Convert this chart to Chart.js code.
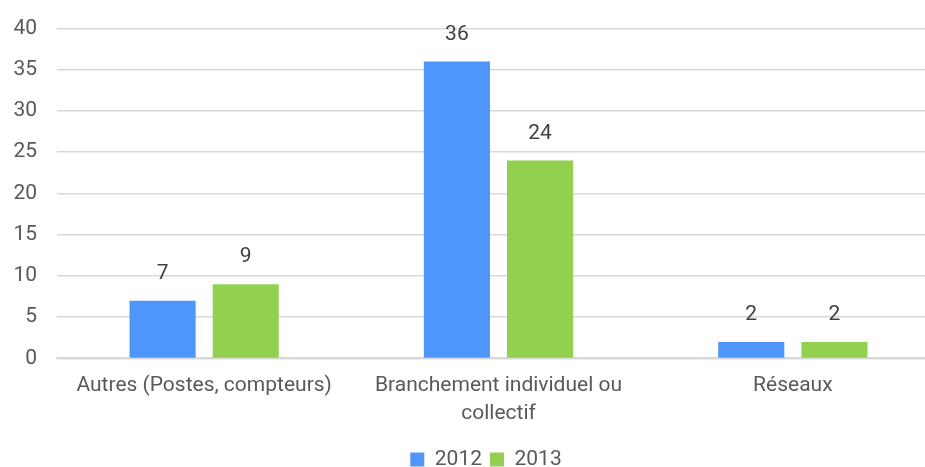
<!DOCTYPE html>
<html>
<head>
<meta charset="utf-8">
<script src="https://cdn.jsdelivr.net/npm/chart.js@4"></script>
<style>
  html, body { margin: 0; padding: 0; background: #fff; overflow: hidden; }
  #wrap { width: 940px; height: 467px; position: relative; }
</style>
</head>
<body>
<div id="wrap"><canvas id="chart"></canvas></div>
<script>
const categories = ['Autres (Postes, compteurs)', ['Branchement individuel ou', 'collectif'], 'Réseaux'];
const values2012 = [7, 36, 2];
const values2013 = [9, 24, 2];
const seriesNames = ['2012', '2013'];

const FONT = 'Roboto, "Open Sans", sans-serif';
const SIZE = 21;

// draws the value above each bar
const barValues = {
    id: 'barValues',
    afterDatasetsDraw(chart) {
        const ctx = chart.ctx;
        ctx.save();
        ctx.font = SIZE + 'px ' + FONT;
        ctx.fillStyle = '#404040';
        ctx.textAlign = 'center';
        ctx.textBaseline = 'middle';
        chart.data.datasets.forEach((ds, i) => {
            chart.getDatasetMeta(i).data.forEach((bar, j) => {
                ctx.fillText(ds.data[j], bar.x, bar.y - 27);
            });
        });
        ctx.restore();
    }
};

// nudge the legend a bit right, like the original
const legendShift = {
    id: 'legendShift',
    afterLayout(chart) {
        if (chart.legend) {
            chart.legend.left += 16;
            chart.legend.right += 16;
        }
    }
};

new Chart(document.getElementById('chart'), {
    type: 'bar',
    data: {
        labels: categories,
        datasets: [{
            label: seriesNames[0],
            data: values2012,
            backgroundColor: '#4f96fb',
            categoryPercentage: 0.565,
            barPercentage: 0.795
        }, {
            label: seriesNames[1],
            data: values2013,
            backgroundColor: '#92d050',
            categoryPercentage: 0.565,
            barPercentage: 0.795
        }]
    },
    options: {
        responsive: true,
        maintainAspectRatio: false,
        animation: false,
        layout: { padding: { top: -4, right: 0, left: 0, bottom: -13 } },
        plugins: {
            legend: {
                position: 'bottom',
                labels: {
                    boxWidth: 14,
                    boxHeight: 14,
                    padding: 8,
                    color: '#595959',
                    font: { family: FONT, size: SIZE }
                }
            },
            tooltip: { enabled: false }
        },
        scales: {
            x: {
                grid: { display: false, drawTicks: false },
                border: { color: '#d9d9d9', width: 2 },
                ticks: {
                    color: '#595959',
                    padding: 14,
                    maxRotation: 0,
                    autoSkip: false,
                    font: { family: FONT, size: SIZE, lineHeight: 1.3 }
                }
            },
            y: {
                min: 0,
                max: 40,
                ticks: {
                    stepSize: 5,
                    color: '#595959',
                    padding: 20,
                    font: { family: FONT, size: SIZE, lineHeight: 0.8 }
                },
                grid: { color: '#d9d9d9', lineWidth: 1.5, drawTicks: false },
                border: { display: false },
                afterFit: scale => { scale.width = 57; }
            }
        }
    },
    plugins: [barValues, legendShift]
});
</script>
</body>
</html>
